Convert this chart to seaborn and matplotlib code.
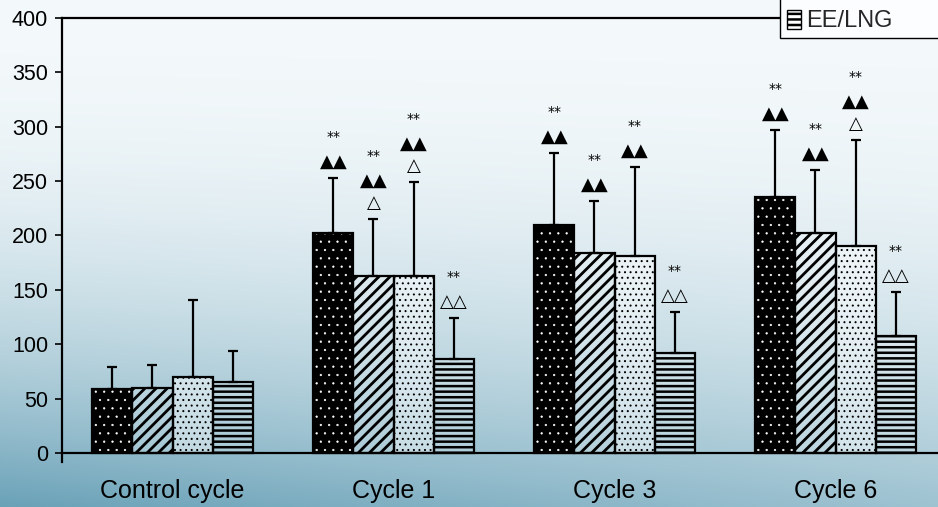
import numpy as np
import pandas as pd
import matplotlib
matplotlib.use("Agg")
import matplotlib.pyplot as plt
from matplotlib.patches import Rectangle, Patch
import seaborn as sns

# data
cycles = ["Control cycle", "Cycle 1", "Cycle 3", "Cycle 6"]
series = ["Group 1", "Group 2", "Group 3", "EE/LNG"]

group1 = [59, 202, 210, 235]
group2 = [60, 163, 184, 202]
group3 = [70, 163, 181, 190]
ee_lng = [65, 86, 92, 108]

sd1 = [20, 51, 66, 62]
sd2 = [21, 52, 48, 58]
sd3 = [71, 86, 82, 98]
sd4 = [29, 38, 38, 40]

# significance marks, listed from the error cap upwards
marks1 = [[], ["▲▲", "**"], ["▲▲", "**"], ["▲▲", "**"]]
marks2 = [[], ["△", "▲▲", "**"], ["▲▲", "**"], ["▲▲", "**"]]
marks3 = [[], ["△", "▲▲", "**"], ["▲▲", "**"], ["△", "▲▲", "**"]]
marks4 = [[], ["△△", "**"], ["△△", "**"], ["△△", "**"]]

values = [group1, group2, group3, ee_lng]
sds = [sd1, sd2, sd3, sd4]
marks = [marks1, marks2, marks3, marks4]

rows = []
for s, vals in zip(series, values):
    for c, v in zip(cycles, vals):
        rows.append({"cycle": c, "series": s, "value": v})
df = pd.DataFrame(rows)

sns.set_style("ticks")
plt.rcParams["font.family"] = ["Liberation Sans", "DejaVu Sans"]
plt.rcParams["hatch.linewidth"] = 1.8

W, H = 938, 507
fig = plt.figure(figsize=(W / 100, H / 100), dpi=100)

# background gradient
bg = fig.add_axes([0, 0, 1, 1])
yy, xx = np.mgrid[0:H, 0:W]
t = (yy / H) ** 2.2 * (1 - 0.38 * xx / W)
top = np.array([244, 249, 251]) / 255
bottom = np.array([105, 161, 183]) / 255
img = top[None, None, :] * (1 - t[..., None]) + bottom[None, None, :] * t[..., None]
bg.imshow(img, aspect="auto", extent=(0, 1, 0, 1), origin="upper")
bg.axis("off")

ax = fig.add_axes([62 / W, 1 - 462 / H, 884 / W, 444 / H])
ax.patch.set_alpha(0)

sns.barplot(data=df, x="cycle", y="value", hue="series", order=cycles,
            hue_order=series, width=0.724, errorbar=None, legend=False,
            palette=["black", "white", "white", "white"], ax=ax)

styles = [
    dict(face="black", hatch="..", hcolor="white", hlw=0.4),
    dict(face=(1, 1, 1, 0.2), hatch="///", hcolor="black", hlw=2.0),
    dict(face=(1, 1, 1, 0.45), hatch="...", hcolor="black", hlw=0.7),
    dict(face=(1, 1, 1, 0.2), hatch="---", hcolor="black", hlw=1.8),
]

bar_containers = list(ax.containers)
for k, cont in enumerate(bar_containers):
    st = styles[k]
    xs, ys = [], []
    for bar in cont:
        bar.set_facecolor(st["face"])
        bar.set_edgecolor(st["hcolor"])
        bar.set_hatch(st["hatch"])
        bar.set_linewidth(0)
        if hasattr(bar, "set_hatch_linewidth"):
            bar.set_hatch_linewidth(st["hlw"])
        ax.add_patch(Rectangle(bar.get_xy(), bar.get_width(), bar.get_height(),
                               fill=False, edgecolor="black", lw=1.6,
                               zorder=bar.get_zorder() + 0.1))
        xs.append(bar.get_x() + bar.get_width() / 2)
        ys.append(bar.get_height())
    sd = np.array(sds[k])
    ax.errorbar(xs, ys, yerr=[np.zeros_like(sd), sd], fmt="none",
                ecolor="black", elinewidth=1.6, capsize=3.6, capthick=1.6,
                zorder=3)
    for x, y, s, mk in zip(xs, ys, sd, marks[k]):
        for i, txt in enumerate(mk):
            star = txt == "**"
            ax.annotate(txt, xy=(x, y + s),
                        xytext=(0, 11.5 + 16 * i + (2 if star else 0)),
                        textcoords="offset points", ha="center", va="center",
                        fontsize=10 if star else 13,
                        family="DejaVu Sans", color="black")

ax.axhline(0, color="black", lw=1.6, zorder=4)
ax.set_xlim(-0.5, 3.5)
ax.set_ylim(-8.3, 400)
ax.set_yticks(range(0, 401, 50))
ax.set_xlabel("")
ax.set_ylabel("")
ax.tick_params(axis="y", length=5, width=1.2, direction="out", labelsize=15.5,
               pad=5, colors="black")
ax.tick_params(axis="x", length=0, labelsize=18, pad=12, colors="black")
for side in ["bottom", "right"]:
    ax.spines[side].set_visible(False)
for side in ["left", "top"]:
    ax.spines[side].set_linewidth(1.6)
    ax.spines[side].set_color("black")

# legend (only the last entry is inside the picture)
fig.add_artist(Rectangle((780 / W, 1 - 38 / H), 200 / W, 60 / H,
                         transform=fig.transFigure, facecolor="#fbfdfe",
                         edgecolor="black", lw=1, zorder=4))
leg = fig.legend(handles=[Patch(facecolor="white", edgecolor="black", hatch="---")],
                 labels=["EE/LNG"], loc="center left",
                 bbox_to_anchor=(787 / W, 1 - 21 / H), frameon=False,
                 fontsize=17, handlelength=0.6, handleheight=0.9,
                 handletextpad=0.2, borderpad=0, borderaxespad=0)
leg.set_zorder(5)

fig.savefig("out.png", dpi=100)
